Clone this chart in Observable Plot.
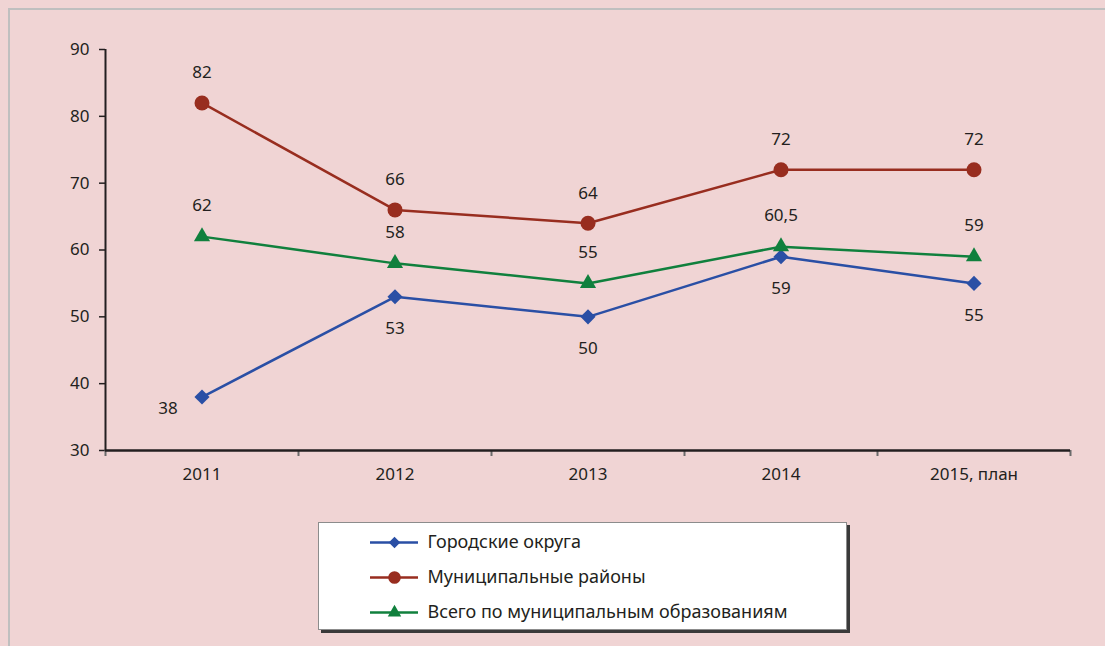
<!DOCTYPE html>
<html>
<head>
<meta charset="utf-8">
<script src="https://cdn.jsdelivr.net/npm/d3@7"></script>
<script src="https://cdn.jsdelivr.net/npm/@observablehq/plot@0.6"></script>
<style>
  html, body { margin: 0; padding: 0; background: #f0d4d4; overflow: hidden; }
  body { width: 1105px; height: 646px; position: relative; font-family: "Noto Sans", sans-serif; }
  #frame { position: absolute; left: 8px; top: 8px; width: 1200px; height: 700px;
           border-left: 2px solid #bfbfbf; border-top: 2px solid #bfbfbf; }
  #chart { position: absolute; left: 0; top: 0; }
  #legend { position: absolute; left: 318px; top: 522px; width: 527px; height: 106px;
            background: #fff; border: 1px solid #8c8c8c; box-shadow: 3px 3px 0 #3a3a3a; }
  #legend svg { position: absolute; left: 0; top: 0; }
</style>
</head>
<body>
<div id="frame"></div>
<div id="chart"></div>
<div id="legend"></div>
<script>
const categories = ["2011", "2012", "2013", "2014", "2015, план"];
const seriesNames = ["Городские округа", "Муниципальные районы", "Всего по муниципальным образованиям"];
const gorodskie = [38, 53, 50, 59, 55];
const municipalnye = [82, 66, 64, 72, 72];
const vsego = [62, 58, 55, 60.5, 59];
const yTicks = [30, 40, 50, 60, 70, 80, 90];

const colors = ["#2a4fa5", "#982d1f", "#10803d"];
const symbols = ["diamond2", "circle", "triangle"];
const radii = [6.8, 7.5, 6.0];
const legendRadii = [5.2, 6.3, 5.0];
const labelDy = [32, -30, -31];

const allValues = [gorodskie, municipalnye, vsego];
const data = [];
allValues.forEach((vals, s) => vals.forEach((v, i) => data.push({
  series: seriesNames[s], s, i, x: i + 0.5, value: v,
  label: String(v).replace(".", ",")
})));

const fmt = d => categories[Math.round(d - 0.5)];
const textColor = "#231f20";
const axisColor = "#231f20";

const chart = Plot.plot({
  width: 1105,
  height: 510,
  marginLeft: 105,
  marginRight: 35,
  marginTop: 49,
  marginBottom: 60,
  style: { background: "transparent", fontFamily: "Noto Sans, sans-serif", fontSize: "17px", color: textColor },
  x: { domain: [0, categories.length] },
  y: { domain: [30, 90] },
  marks: [
    Plot.axisY({ ticks: yTicks, tickSize: 6, tickPadding: 10, stroke: axisColor, strokeWidth: 1.5, fill: textColor, fontSize: 17, label: null }),
    Plot.axisX({ ticks: d3.range(0, categories.length + 1), tickSize: 6, tickFormat: () => "", stroke: "#6b6b6b", strokeWidth: 2, label: null }),
    Plot.axisX({ ticks: categories.map((c, i) => i + 0.5), tickSize: 0, tickPadding: 17, tickFormat: fmt, fill: textColor, fontSize: 17, label: null }),
    Plot.ruleX([0], { y1: 30, y2: 90, stroke: axisColor, strokeWidth: 2 }),
    Plot.ruleY([30], { x1: 0, x2: categories.length, stroke: axisColor, strokeWidth: 2.5 }),
    ...[0, 1, 2].map(s => Plot.line(data.filter(d => d.s === s), { x: "x", y: "value", stroke: colors[s], strokeWidth: 2.5 })),
    ...[0, 1, 2].map(s => Plot.dot(data.filter(d => d.s === s), { x: "x", y: "value", symbol: () => symbols[s], r: radii[s], fill: colors[s], stroke: "none" })),
    ...[0, 1, 2].map(s => Plot.text(data.filter(d => d.s === s && !(s === 0 && d.i === 0)), { x: "x", y: "value", text: "label", dy: labelDy[s], fill: textColor, fontSize: 17 })),
    Plot.text(data.filter(d => d.s === 0 && d.i === 0), { x: "x", y: "value", text: "label", dx: -34, dy: 12, fill: textColor, fontSize: 17 })
  ]
});
document.getElementById("chart").appendChild(chart);

const legendData = seriesNames.map((name, s) => ({ name, s }));
const legend = Plot.plot({
  width: 527,
  height: 106,
  margin: 0,
  style: { background: "transparent", fontFamily: "Noto Sans, sans-serif", fontSize: "18px", color: textColor },
  x: { domain: [0, 1], range: [51, 99], axis: null },
  y: { type: "point", domain: seriesNames, range: [18, 89], padding: 0, axis: null },
  marks: [
    ...[0, 1, 2].map(s => Plot.ruleY(legendData.filter(d => d.s === s), { y: "name", x1: 0, x2: 1, stroke: colors[s], strokeWidth: 2.5 })),
    ...[0, 1, 2].map(s => Plot.dot(legendData.filter(d => d.s === s), { x: 0.5, y: "name", symbol: () => symbols[s], r: legendRadii[s], fill: colors[s], stroke: "none" })),
    Plot.text(legendData, { x: 1, y: "name", text: "name", dx: 9, textAnchor: "start", fill: textColor, fontSize: 18 })
  ]
});
document.getElementById("legend").appendChild(legend);
</script>
</body>
</html>
